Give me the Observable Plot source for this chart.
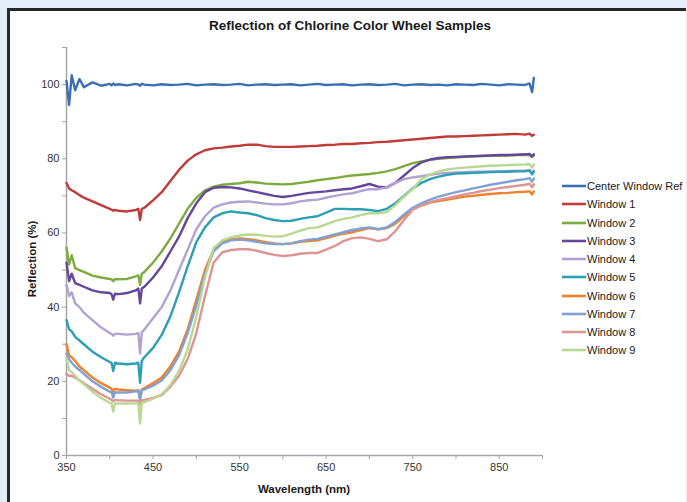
<!DOCTYPE html>
<html>
<head>
<meta charset="utf-8">
<script src="https://cdn.jsdelivr.net/npm/d3@7"></script>
<script src="https://cdn.jsdelivr.net/npm/@observablehq/plot@0.6"></script>
<style>
  html, body { margin: 0; padding: 0; }
  body { width: 687px; height: 502px; overflow: hidden; background: #e4eef9; font-family: "Liberation Sans", Arial, sans-serif; }
  #wrap { position: relative; width: 687px; height: 502px; }
  #frame { position: absolute; left: 7px; top: 8px; width: 676px; height: 500px; background: #fff; border-left: 3px solid #262626; border-top: 3px solid #262626; }
  #title { position: absolute; left: 0; width: 700px; top: 18px; text-align: center; font-size: 13.5px; font-weight: bold; color: #1a1a1a; }
  #chart { position: absolute; left: 0; top: 0; }
  #ylab { position: absolute; left: 32px; top: 259px; transform: translate(-50%, -50%) rotate(-90deg); font-size: 11.5px; font-weight: bold; color: #1a1a1a; white-space: nowrap; }
  #xlab { position: absolute; left: 304px; top: 489px; transform: translate(-50%, -50%); font-size: 11.5px; font-weight: bold; color: #1a1a1a; white-space: nowrap; }
  #legend { position: absolute; left: 562px; top: 177px; font-size: 11px; color: #1a1a1a; }
  .item { height: 18.25px; display: flex; align-items: center; white-space: nowrap; }
  .item svg { margin-right: 1px; }
</style>
</head>
<body>
<div id="wrap">
  <div id="frame"></div>
  <div id="title">Reflection of Chlorine Color Wheel Samples</div>
  <div id="chart"></div>
  <div id="ylab">Reflection (%)</div>
  <div id="xlab">Wavelength (nm)</div>
  <div id="legend"></div>
</div>
<script>
const seriesNames = ["Center Window Ref", "Window 1", "Window 2", "Window 3", "Window 4", "Window 5", "Window 6", "Window 7", "Window 8", "Window 9"];
const seriesColors = ["#3b6fb4", "#be3d3b", "#7eab3f", "#64469a", "#b1a2d1", "#2c9fb5", "#f0812c", "#7fa2d6", "#dd9593", "#b9d891"];

const xTicks = [350, 400, 450, 500, 550, 600, 650, 700, 750, 800, 850, 900];
const xTickLabels = [350, 450, 550, 650, 750, 850];
const yTicks = [0, 10, 20, 30, 40, 50, 60, 70, 80, 90, 100, 110];
const yTickLabels = [0, 20, 40, 60, 80, 100];

const wavelengths = [350, 353, 356, 360, 365, 370, 380, 390, 400, 402, 404, 406, 410, 420, 430, 433, 435, 437, 440,
  450, 460, 470, 480, 490, 500, 510, 520, 530, 540, 550, 560, 570, 580, 590, 600, 610, 620, 630, 640, 650, 660, 670, 680,
  690, 700, 710, 720, 730, 740, 750, 760, 770, 780, 790, 800, 810, 820, 830, 840, 850, 860, 870, 880, 885, 888, 890];

const centerRef = [101, 94.5, 102.5, 98.5, 101.5, 99.3, 100.6, 99.7, 100.2, 99.8, 100.3, 99.9, 100.1, 99.8, 100.2, 100, 99.7, 100.2, 100,
  99.8, 100.1, 99.9, 100, 100.2, 99.8, 100, 100.1, 99.9, 100, 100.2, 99.8, 100, 100.1, 99.9, 100, 100.1, 99.8, 100, 100.2, 99.9, 100, 100.1, 99.8,
  100, 100.1, 99.9, 100, 100.2, 99.8, 100, 100.1, 99.9, 100, 99.8, 100.1, 100, 99.9, 100.2, 100, 99.8, 100.1, 100, 99.9, 100.3, 98, 101.8];

const window1 = [73.5, 72, 71.5, 71, 70.2, 69.5, 68.5, 67.5, 66.5, 66.3, 66, 66.2, 66, 65.8, 66.2, 66.5, 63.5, 66.5, 66.8,
  68.8, 71, 74, 77, 79.5, 81.2, 82.3, 82.8, 83, 83.3, 83.5, 83.8, 83.8, 83.4, 83.2, 83.2, 83.2, 83.3, 83.4, 83.5, 83.7, 83.8, 84, 84,
  84.2, 84.3, 84.5, 84.6, 84.8, 85, 85.2, 85.4, 85.6, 85.8, 86, 86, 86.1, 86.2, 86.3, 86.4, 86.5, 86.6, 86.7, 86.5, 86.8, 86.2, 86.5];

const window2 = [56, 51.5, 54, 50.5, 50, 49.5, 48.5, 48, 47.6, 47.5, 47, 47.6, 47.5, 47.6, 48.3, 48.6, 46, 49, 49.5,
  52, 55, 58.5, 62.5, 66.5, 69.5, 71.5, 72.5, 73, 73.2, 73.4, 73.8, 73.6, 73.3, 73.2, 73.1, 73.2, 73.5, 73.8, 74.2, 74.5, 74.8, 75.2, 75.5,
  75.7, 75.9, 76.2, 76.6, 77.2, 78, 78.8, 79.3, 79.7, 80, 80.2, 80.3, 80.5, 80.6, 80.7, 80.8, 80.8, 80.9, 81, 81, 81, 80.5, 81];

const window3 = [52, 47, 49, 46.5, 46, 45.5, 44.5, 44, 43.8, 43.5, 42, 43.6, 43.5, 43.8, 44.5, 45, 41, 45, 45.5,
  48, 51, 55, 59, 64, 68, 71, 72.2, 72.4, 72.3, 72, 71.5, 71, 70.5, 70, 69.7, 70, 70.4, 70.8, 71, 71.2, 71.5, 71.8, 72,
  72.6, 73.2, 72.5, 72.3, 73.5, 75.5, 77.5, 79, 79.8, 80.2, 80.4, 80.5, 80.6, 80.7, 80.8, 80.9, 81, 81, 81.1, 81.2, 81.3, 80.6, 81.2];

const window4 = [46, 43, 44, 41, 40, 38.5, 36.5, 34.5, 33, 32.8, 32.3, 32.8, 32.8, 32.6, 32.8, 33, 27.5, 33.2, 34,
  37, 40, 44.5, 50, 55.5, 61, 64.5, 66.8, 67.7, 68.2, 68.4, 68.5, 68.2, 67.9, 67.7, 67.7, 68, 68.5, 68.8, 69, 69.5, 70, 70.4, 70.7,
  71.3, 71.8, 71.8, 72.3, 73.5, 74.5, 75, 75.3, 75.7, 76, 76.2, 76.3, 76.4, 76.5, 76.5, 76.6, 76.6, 76.7, 76.8, 76.8, 77, 76.3, 76.8];

const window5 = [36.5, 34, 33.5, 32, 31, 30, 28, 26.5, 25.2, 25, 22.8, 25, 24.8, 24.6, 24.8, 25, 19.6, 25.5, 26.5,
  29, 32.5, 37.5, 44, 51, 57.5, 61.5, 64.2, 65.3, 65.8, 65.5, 65.3, 64.8, 64, 63.5, 63.2, 63.3, 63.8, 64.2, 64.5, 65.5, 66.5, 66.5, 66.4,
  66.4, 66.2, 65.9, 66.5, 68, 70, 72, 73.5, 74.5, 75.2, 75.7, 76, 76.1, 76.2, 76.3, 76.4, 76.5, 76.5, 76.6, 76.6, 76.8, 75.8, 76.5];

const window6 = [30, 27, 26.5, 25.5, 24, 23, 21, 19.5, 18.3, 18, 17, 18, 17.8, 17.6, 17.5, 17.6, 15.5, 17.8, 18.2,
  19.5, 21, 24, 28, 34, 42, 50, 55.5, 57.5, 58.3, 58.5, 58.3, 58, 57.5, 57.2, 57, 57.2, 57.6, 57.8, 58, 58.6, 59.3, 59.8, 60.2,
  60.8, 61.3, 61, 61.3, 62.5, 64.5, 66.5, 67.4, 68.2, 68.6, 69, 69.4, 69.8, 70, 70.3, 70.5, 70.7, 70.8, 71, 71.1, 71.2, 70.4, 71.2];

const window7 = [27.5, 26, 25, 24, 23, 22, 20, 18.5, 17.2, 17, 15.6, 17, 17, 17, 17.3, 17.5, 14.8, 17.6, 17.8,
  18.8, 20.2, 23, 27, 33, 40.5, 49, 55, 57.2, 58, 58.2, 58, 57.6, 57.2, 57, 57, 57.2, 57.8, 58.2, 58.4, 59, 59.6, 60.2, 60.8,
  61.2, 61.5, 61, 61.5, 63, 65, 66.8, 68, 69, 69.8, 70.4, 71, 71.5, 72, 72.5, 73, 73.4, 73.8, 74.2, 74.5, 74.8, 73.8, 74.7];

const window8 = [22, 21.5, 21.5, 21, 20.3, 19.5, 18, 16.5, 15.3, 15, 14.6, 15, 14.9, 14.8, 14.8, 14.8, 13.8, 14.9, 15,
  15.5, 16.3, 18.5, 21.5, 26, 33, 43, 52, 54.8, 55.4, 55.6, 55.6, 55.2, 54.6, 54.1, 53.8, 54, 54.4, 54.6, 54.6, 55.5, 56.5, 57.8, 58.6,
  58.8, 58.4, 57.8, 58.3, 60.5, 63.5, 66.3, 67.4, 68.3, 68.9, 69.4, 69.9, 70.4, 70.8, 71.3, 71.7, 72.1, 72.4, 72.7, 73, 73.3, 72.3, 73.1];

const window9 = [26.3, 23, 22.5, 21.5, 20.2, 19.2, 17.2, 15.5, 14.2, 14, 11.8, 14, 14, 14, 14.1, 14.2, 8.6, 14.2, 14.4,
  15.3, 16.5, 19, 22.8, 28.5, 37.5, 48, 56, 58, 58.8, 59.3, 59.6, 59.5, 59.2, 59, 59.1, 59.8, 60.6, 61.3, 61.5, 62.3, 63.2, 63.8, 64.2,
  64.8, 65.3, 65.3, 65.6, 67.5, 69.8, 71.8, 74.5, 75.8, 76.6, 77.1, 77.4, 77.6, 77.8, 78, 78.1, 78.2, 78.3, 78.4, 78.5, 78.6, 77.6, 78.5];

const seriesValues = [centerRef, window1, window2, window3, window4, window5, window6, window7, window8, window9];

const rows = [];
seriesNames.forEach((name, s) => {
  wavelengths.forEach((w, i) => rows.push({series: name, wl: w, r: seriesValues[s][i]}));
});

const axisColor = "#a6a6a6";
const textColor = "#333";

const plot = Plot.plot({
  width: 687,
  height: 502,
  marginLeft: 66,
  marginRight: 145,
  marginTop: 47,
  marginBottom: 47,
  style: {background: "transparent", fontFamily: "'Liberation Sans', Arial, sans-serif", fontSize: "11px", color: textColor},
  x: {domain: [350, 900], label: null},
  y: {domain: [0, 110], label: null},
  color: {domain: seriesNames, range: seriesColors},
  marks: [
    Plot.axisX({ticks: xTicks, tickSize: 4, tickPadding: 4, stroke: axisColor, fill: textColor,
      tickFormat: d => xTickLabels.includes(d) ? String(d) : "", fontSize: 11}),
    Plot.axisY({ticks: yTicks, tickSize: 4, tickPadding: 3, stroke: axisColor, fill: textColor,
      tickFormat: d => yTickLabels.includes(d) ? String(d) : "", fontSize: 11}),
    Plot.ruleX([350], {stroke: axisColor, strokeWidth: 1.5}),
    Plot.ruleY([0], {stroke: axisColor, strokeWidth: 1.5}),
    Plot.line(rows, {x: "wl", y: "r", z: "series", stroke: "series", strokeWidth: 2.4, strokeLinejoin: "round"})
  ]
});
document.getElementById("chart").appendChild(plot);

const legend = document.getElementById("legend");
seriesNames.forEach((name, i) => {
  const item = document.createElement("div");
  item.className = "item";
  item.innerHTML = `<svg width="24" height="6"><line x1="0" y1="3" x2="24" y2="3" stroke="${seriesColors[i]}" stroke-width="2.6"/></svg><span>${name}</span>`;
  legend.appendChild(item);
});
</script>
</body>
</html>
